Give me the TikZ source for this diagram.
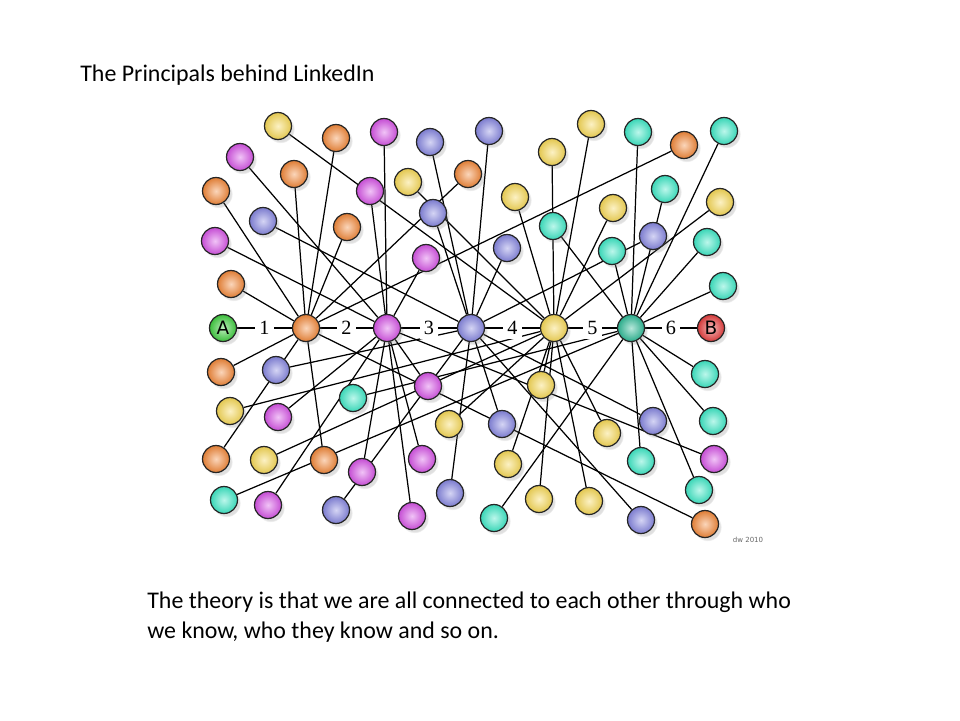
\documentclass[tikz,border=0pt]{standalone}
\usepackage{fontspec}
\setmainfont{Carlito}
\newfontfamily\hopfont{Liberation Serif}
\newfontfamily\endfont{DejaVu Sans}
\usetikzlibrary{backgrounds,shadows}

\definecolor{colO}{RGB}{242,136,58}
\definecolor{colP}{RGB}{214,84,230}
\definecolor{colB}{RGB}{134,134,224}
\definecolor{colY}{RGB}{246,216,86}
\definecolor{colT}{RGB}{62,232,198}
\definecolor{colTh}{RGB}{46,186,150}
\definecolor{colA}{RGB}{64,206,64}
\definecolor{colR}{RGB}{230,62,62}

\tikzset{
  ball/.style={circle, draw=black!85, line width=0.7pt, minimum size=0.54cm, inner sep=0pt,
    inner color=white!65!#1, outer color=#1!92!black,
    circular drop shadow={shadow xshift=0.05cm, shadow yshift=-0.06cm, shadow scale=1.05, opacity=0.25}},
  link/.style={line width=0.7pt, black},
  hop/.style={fill=white, inner sep=2.4pt, font=\hopfont\fontsize{11.5}{11.5}\selectfont},
  slide/.style={anchor=base west, inner sep=0pt, font=\fontsize{13.6}{17}\selectfont}
}

\begin{document}
\begin{tikzpicture}[x=0.02cm, y=-0.02cm]
\useasboundingbox (0,0) rectangle (960,720);

\node[slide] (title) at (80,81) {The Principals behind LinkedIn};

% the chain from A to B
\node[ball=colA, font=\endfont\fontsize{10.5}{10.5}\selectfont] (ptA) at (223,328) {A};
\node[ball=colO] (hubO) at (306,328) {};
\node[ball=colP] (hubP) at (387,328) {};
\node[ball=colB] (hubB) at (471,328) {};
\node[ball=colY] (hubY) at (554,328) {};
\node[ball=colTh] (hubT) at (631,328) {};
\node[ball=colR, font=\endfont\fontsize{10.5}{10.5}\selectfont] (ptB) at (711,328) {B};

% contacts, one colour per hub
\foreach \p [count=\i] in {(336,138),(294,174),(216,191),(347,227),(231,284),(468,174),
    (684,145),(221,372),(216,459),(324,460),(705,524)}
  \node[ball=colO] (or\i) at \p {};
\foreach \p [count=\i] in {(384,132),(240,157),(370,191),(215,241),(426,258),(278,417),
    (428,386),(362,472),(422,459),(268,505),(412,516),(714,459)}
  \node[ball=colP] (pu\i) at \p {};
\foreach \p [count=\i] in {(430,142),(489,131),(263,221),(433,213),(507,248),(653,236),
    (276,370),(502,424),(653,421),(450,493),(336,510),(641,520)}
  \node[ball=colB] (bl\i) at \p {};
\foreach \p [count=\i] in {(278,126),(408,182),(552,152),(591,124),(515,197),(613,208),
    (720,202),(230,411),(264,460),(449,424),(541,385),(508,464),(607,433),(539,499),(589,501)}
  \node[ball=colY] (ye\i) at \p {};
\foreach \p [count=\i] in {(638,132),(724,131),(665,189),(553,226),(612,251),(707,242),
    (723,286),(705,374),(713,421),(641,461),(699,490),(353,398),(224,500),(494,518)}
  \node[ball=colT] (te\i) at \p {};

\begin{scope}[on background layer]
\foreach \i in {1,...,11} \draw[link] (or\i) -- (hubO);
\foreach \i in {1,...,12} \draw[link] (pu\i) -- (hubP);
\foreach \i in {1,...,12} \draw[link] (bl\i) -- (hubB);
\foreach \i in {1,...,15} \draw[link] (ye\i) -- (hubY);
\foreach \i in {1,...,14} \draw[link] (te\i) -- (hubT);
\draw[link] (ptA) -- node[hop] {1} (hubO) -- node[hop] {2} (hubP) -- node[hop] {3} (hubB)
  -- node[hop] {4} (hubY) -- node[hop] {5} (hubT) -- node[hop] {6} (ptB);
\end{scope}

\node[font=\endfont\fontsize{4}{4}\selectfont, text=black!60] (sign) at (748,540) {dw 2010};

\node[slide] (line1) at (147,608)
  {The theory is that we are all connected to each other through who};
\node[slide] (line2) at (147,638) {we know, who they know and so on.};
\end{tikzpicture}
\end{document}
